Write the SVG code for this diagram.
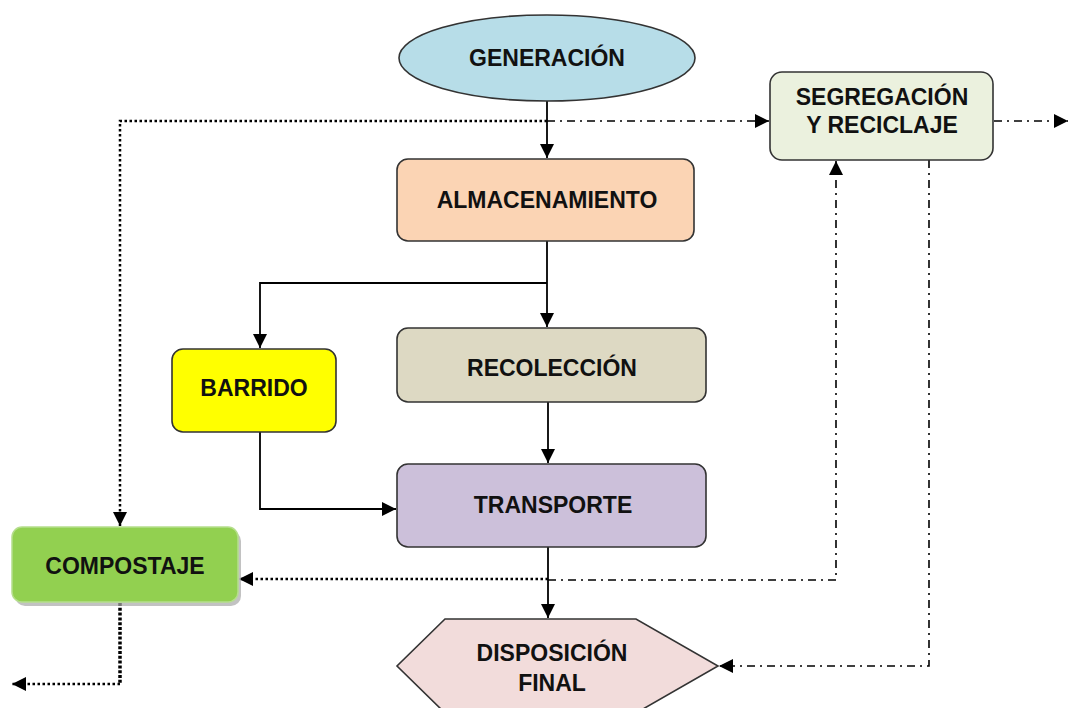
<svg xmlns="http://www.w3.org/2000/svg" width="1072" height="708" viewBox="0 0 1072 708">
<defs>
<marker id="ah" markerUnits="userSpaceOnUse" markerWidth="16" markerHeight="14" refX="14" refY="7" orient="auto">
<path d="M0,0 L14,7 L0,14 z" fill="#000"/>
</marker>
<style>
.box{stroke:#333;stroke-width:1.6}
.t{font-family:"Liberation Sans",Arial,sans-serif;font-weight:bold;font-size:23px;fill:#111;text-anchor:middle}
.solid{fill:none;stroke:#000;stroke-width:1.8}
.dot{fill:none;stroke:#000;stroke-width:2.5;stroke-dasharray:2.5 2.5}
.dot2{fill:none;stroke:#000;stroke-width:3.5;stroke-dasharray:3 1.8}
.dd{fill:none;stroke:#000;stroke-width:1.6;stroke-dasharray:8 5 2 5}
</style>
</defs>
<rect width="1072" height="708" fill="#fff"/>
<g id="connectors">
<path class="solid" d="M547,101 V158" marker-end="url(#ah)"/>
<path class="solid" d="M547,241 V327" marker-end="url(#ah)"/>
<path class="solid" d="M547,283 H260 V348" marker-end="url(#ah)"/>
<path class="solid" d="M548,402 V463" marker-end="url(#ah)"/>
<path class="solid" d="M260,432 V509 H396" marker-end="url(#ah)"/>
<path class="solid" d="M548,547 V618" marker-end="url(#ah)"/>
<path class="dot" d="M547,121 H120 V526" marker-end="url(#ah)"/>
<path class="dd" d="M547,121 H769" marker-end="url(#ah)"/>
<path class="dd" d="M994,121 H1068" marker-end="url(#ah)"/>
<path class="dd" d="M548,580 H836 V161" marker-end="url(#ah)"/>
<path class="dot" d="M548,579 H239" marker-end="url(#ah)"/>
<path class="dd" d="M929,160 V666 H719" marker-end="url(#ah)"/>
<path class="dot2" d="M120,603 V684"/>
<path class="dot" d="M120,684 H12" marker-end="url(#ah)"/>
</g>
<g id="generacion">
<ellipse class="box" cx="547" cy="58" rx="148" ry="43" fill="#B7DDE8"/>
<text class="t" x="547" y="66">GENERACIÓN</text>
</g>
<g id="almacenamiento">
<rect class="box" x="397" y="159" width="297" height="82" rx="11" fill="#FBD4B4"/>
<text class="t" x="547" y="208">ALMACENAMIENTO</text>
</g>
<g id="recoleccion">
<rect class="box" x="397" y="328" width="309" height="74" rx="11" fill="#DDD9C3"/>
<text class="t" x="552" y="376">RECOLECCIÓN</text>
</g>
<g id="barrido">
<rect class="box" x="172" y="349" width="164" height="83" rx="11" fill="#FFFF00"/>
<text class="t" x="254" y="396">BARRIDO</text>
</g>
<g id="transporte">
<rect class="box" x="397" y="464" width="309" height="83" rx="11" fill="#CCC0DA"/>
<text class="t" x="553" y="513">TRANSPORTE</text>
</g>
<g id="disposicion">
<polygon class="box" points="445,619 636,619 718,666 636,713 445,713 397,666" fill="#F2DCDB"/>
<text class="t" x="552" y="661">DISPOSICIÓN</text>
<text class="t" x="552" y="691">FINAL</text>
</g>
<g id="compostaje">
<rect x="15" y="531" width="226" height="75" rx="10" fill="#A8A8A8" opacity="0.7"/>
<rect x="12" y="527" width="226" height="75" rx="10" fill="#92D050" stroke="#B5DE8C" stroke-width="1.5"/>
<text class="t" x="125" y="574">COMPOSTAJE</text>
</g>
<g id="segregacion">
<rect class="box" x="770" y="72" width="223" height="88" rx="12" fill="#EBF1DE"/>
<text class="t" x="882" y="105">SEGREGACIÓN</text>
<text class="t" x="882" y="133">Y RECICLAJE</text>
</g>
</svg>
